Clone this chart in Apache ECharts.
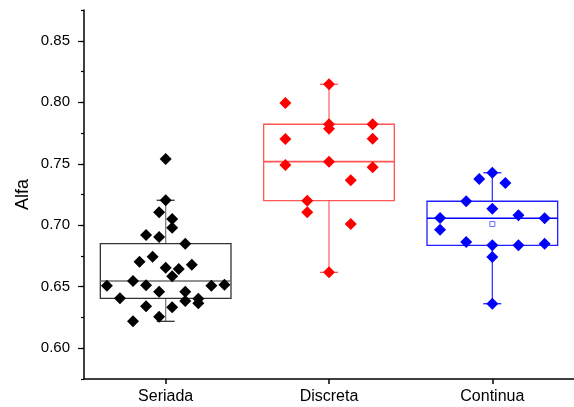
<!DOCTYPE html>
<html>
<head>
<meta charset="utf-8">
<script src="https://cdn.jsdelivr.net/npm/echarts@6/dist/echarts.min.js"></script>
<style>
  html, body { margin: 0; padding: 0; background: #fff; }
  #chart { width: 574px; height: 407px; }
</style>
</head>
<body>
<div id="chart"></div>
<script>
// Groups shown on the horizontal axis
const categories = ['Seriada', 'Discreta', 'Continua'];

// Alfa values per group, with the horizontal spread of each point (category units)
const seriada = [0.7539, 0.7203, 0.7105, 0.7051, 0.6980, 0.6921, 0.6904, 0.6850, 0.6704, 0.6744,
                 0.6655, 0.6644, 0.6679, 0.6585, 0.6509, 0.6547, 0.6512, 0.6509, 0.6517, 0.6460,
                 0.6460, 0.6406, 0.6384, 0.6403, 0.6365, 0.6341, 0.6333, 0.6256, 0.6219];
const seriadaSpread = [0, 0, -0.04, 0.04, 0.04, -0.12, -0.04, 0.12, -0.16, -0.08,
                       0, 0.08, 0.16, 0.04, -0.36, -0.2, -0.12, 0.28, 0.36, -0.04,
                       0.12, -0.28, 0.12, 0.2, 0.2, -0.12, 0.04, -0.04, -0.2];

const discreta = [0.8146, 0.7994, 0.7821, 0.7785, 0.7821, 0.7701, 0.7704, 0.7490, 0.7517, 0.7471,
                  0.7365, 0.7200, 0.7105, 0.7010, 0.6617];
const discretaSpread = [0, -0.267, 0, 0, 0.267, -0.267, 0.267, -0.267, 0, 0.267,
                        0.133, -0.133, -0.133, 0.133, 0];

const continua = [0.7427, 0.7376, 0.7343, 0.7195, 0.7135, 0.7059, 0.7081, 0.7057, 0.6964, 0.6864,
                  0.6837, 0.6837, 0.6850, 0.6742, 0.6362];
const continuaSpread = [0, -0.08, 0.08, -0.16, 0, -0.32, 0.16, 0.32, -0.32, -0.16,
                        0, 0.16, 0.32, 0, 0];

// Box statistics: [lower whisker, Q1, median, Q3, upper whisker]
const seriadaBox = [0.6219, 0.6406, 0.6547, 0.6850, 0.7203];
const discretaBox = [0.6617, 0.7200, 0.7517, 0.7821, 0.8146];
const continuaBox = [0.6362, 0.6837, 0.7057, 0.7195, 0.7427];
const continuaMean = 0.7010;

// Labelled ticks of the Alfa axis
const yTicks = [0.60, 0.65, 0.70, 0.75, 0.80, 0.85];
const yMin = 0.575, yMax = 0.875;

const boxLine = [
  { box: '#333333', median: '#6e6e6e', whisker: '#808080' },
  { box: '#ff5555', median: '#ff5555', whisker: '#ff6a6a' },
  { box: '#1f1fff', median: '#0000ff', whisker: '#3a3aff' }
];
const pointColor = ['#000000', '#ff0000', '#0000ff'];

function points(values, spread, idx) {
  return values.map((v, i) => [idx + spread[i], v]);
}

const chart = echarts.init(document.getElementById('chart'), null, { renderer: 'canvas' });

const font = 'Liberation Sans, Arial, sans-serif';

function pointSeries(values, spread, idx) {
  return {
    type: 'scatter',
    xAxisIndex: 1,
    yAxisIndex: 0,
    z: 4,
    symbol: 'diamond',
    symbolSize: 12,
    data: points(values, spread, idx),
    itemStyle: { color: pointColor[idx], opacity: 1 }
  };
}

chart.setOption({
  animation: false,
  backgroundColor: '#ffffff',
  grid: { left: 84, top: 10, width: 501, height: 369, containLabel: false },
  xAxis: [
    {
      type: 'category',
      data: categories,
      boundaryGap: true,
      axisLine: { show: true, onZero: false, lineStyle: { color: '#000', width: 1.5 } },
      axisTick: { show: true, alignWithLabel: true, length: 5, lineStyle: { color: '#000', width: 1.5 } },
      axisLabel: { color: '#000', fontFamily: font, fontSize: 16, margin: 10 },
      splitLine: { show: false }
    },
    {
      type: 'value',
      min: -0.5,
      max: 2.5,
      show: false
    }
  ],
  yAxis: [
    {
      type: 'value',
      min: yMin,
      max: yMax,
      interval: 0.025,
      position: 'left',
      name: 'Alfa',
      nameLocation: 'middle',
      nameGap: 52,
      nameTextStyle: { color: '#000', fontFamily: font, fontSize: 18 },
      axisLine: { show: true, onZero: false, lineStyle: { color: '#000', width: 1.5 } },
      axisTick: { show: true, length: 3, lineStyle: { color: '#000', width: 1.2 } },
      axisLabel: { show: false },
      splitLine: { show: false }
    },
    {
      type: 'value',
      min: yMin,
      max: yMax,
      position: 'left',
      axisLine: { show: false, onZero: false },
      axisTick: { show: true, length: 6, customValues: yTicks, lineStyle: { color: '#000', width: 1.2 } },
      axisLabel: {
        show: true,
        customValues: yTicks,
        color: '#000',
        fontFamily: font,
        fontSize: 15,
        margin: 14,
        formatter: v => v.toFixed(2)
      },
      splitLine: { show: false }
    }
  ],
  series: [
    {
      type: 'custom',
      xAxisIndex: 1,
      yAxisIndex: 0,
      z: 2,
      data: [[0, ...seriadaBox], [1, ...discretaBox], [2, ...continuaBox]],
      renderItem: function (params, api) {
        const idx = api.value(0);
        const lo = api.coord([idx, api.value(1)]);
        const q1 = api.coord([idx, api.value(2)]);
        const med = api.coord([idx, api.value(3)]);
        const q3 = api.coord([idx, api.value(4)]);
        const hi = api.coord([idx, api.value(5)]);
        const half = api.size([0.8, 0])[0] / 2;
        const cap = 9;
        const x = lo[0];
        const c = boxLine[idx];
        const w = 1.3;
        return {
          type: 'group',
          children: [
            { type: 'line', shape: { x1: x, y1: q3[1], x2: x, y2: hi[1] }, style: { stroke: c.whisker, lineWidth: w } },
            { type: 'line', shape: { x1: x, y1: q1[1], x2: x, y2: lo[1] }, style: { stroke: c.whisker, lineWidth: w } },
            { type: 'line', shape: { x1: x - cap, y1: hi[1], x2: x + cap, y2: hi[1] }, style: { stroke: c.box, lineWidth: w } },
            { type: 'line', shape: { x1: x - cap, y1: lo[1], x2: x + cap, y2: lo[1] }, style: { stroke: c.box, lineWidth: w } },
            { type: 'rect', shape: { x: x - half, y: q3[1], width: 2 * half, height: q1[1] - q3[1] },
              style: { fill: 'none', stroke: c.box, lineWidth: w } },
            { type: 'line', shape: { x1: x - half, y1: med[1], x2: x + half, y2: med[1] }, style: { stroke: c.median, lineWidth: w + 0.3 } }
          ]
        };
      }
    },
    {
      type: 'scatter',
      xAxisIndex: 1,
      yAxisIndex: 0,
      z: 3,
      symbol: 'rect',
      symbolSize: 5,
      data: [[2, continuaMean]],
      itemStyle: { color: '#ffffff', borderColor: '#6b6bff', borderWidth: 1, opacity: 1 }
    },
    pointSeries(seriada, seriadaSpread, 0),
    pointSeries(discreta, discretaSpread, 1),
    pointSeries(continua, continuaSpread, 2)
  ]
});
</script>
</body>
</html>
